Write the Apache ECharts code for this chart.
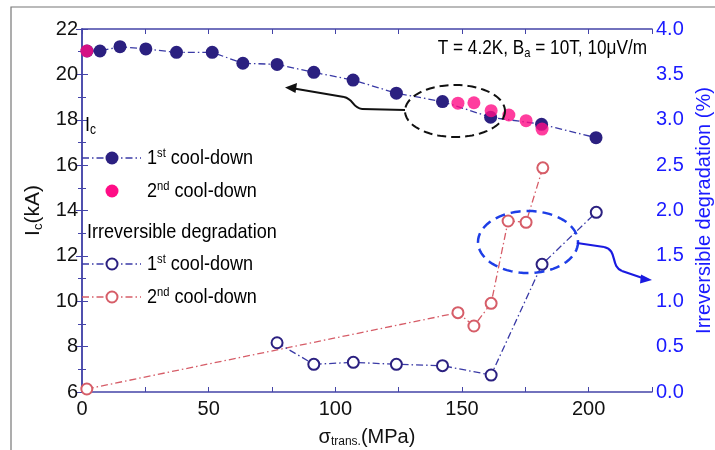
<!DOCTYPE html>
<html>
<head>
<meta charset="utf-8">
<script src="https://cdn.jsdelivr.net/npm/echarts@6/dist/echarts.min.js"></script>
<style>html,body{margin:0;padding:0;background:#fff;overflow:hidden}#c{width:715px;height:450px;position:absolute;left:0;top:0}</style>
</head>
<body>
<div id="c"></div>
<script>
// Ic (kA), 1st cool-down
var ic1Stress = [2, 7.1, 15, 25.2, 37.3, 51.4, 63.5, 77, 91.5, 107, 124.1, 142.3, 161.3, 181.4, 202.9];
var ic1Values = [21.03, 21.03, 21.22, 21.12, 20.97, 20.97, 20.49, 20.44, 20.09, 19.75, 19.17, 18.8, 18.11, 17.8, 17.21];
// Ic (kA), 2nd cool-down
var ic2Stress = [1.9, 148.4, 154.7, 161.5, 168.5, 175.3, 181.6];
var ic2Values = [21.03, 18.73, 18.75, 18.40, 18.21, 17.96, 17.59];
// Irreversible degradation (%), 1st cool-down
var deg1Stress = [77, 91.5, 107.1, 124.1, 142.3, 161.5, 181.6, 203];
var deg1Values = [0.543, 0.305, 0.327, 0.305, 0.29, 0.187, 1.407, 1.98];
// Irreversible degradation (%), 2nd cool-down
var deg2Stress = [1.9, 148.4, 154.7, 161.5, 168.2, 175.3, 181.9];
var deg2Values = [0.033, 0.874, 0.727, 0.977, 1.884, 1.87, 2.47];

var xTicks = [0, 50, 100, 150, 200];
var leftTicks = [6, 8, 10, 12, 14, 16, 18, 20, 22];
var rightTicks = [0, 0.5, 1, 1.5, 2, 2.5, 3, 3.5, 4];

function pairs(xs, ys) { return xs.map(function (x, i) { return [x, ys[i]]; }); }

var FONT = '"Liberation Sans", Arial, sans-serif';
var NAVY = '#2b2080';
var NAVYLINE = '#3a3aa6';
var PINK = '#ff0d86';
var SALMON = '#d65d68';
var AXIS = '#4444a8';
var BLUE = '#1a1aff';
var DASHDOT = [7, 3, 1.5, 3];

var chart = echarts.init(document.getElementById('c'), null, {renderer: 'canvas', width: 715, height: 450});

var G = {left: 82, right: 63, top: 29, bottom: 58};

var option = {
  backgroundColor: '#fff',
  animation: false,
  grid: {left: G.left, right: G.right, top: G.top, bottom: G.bottom, containLabel: false, outerBoundsMode: 'none'},
  xAxis: [{
    type: 'value', min: 0, max: 225, interval: 50,
    name: '{s|σ}{sub|trans.}{s|(MPa)}', nameLocation: 'middle', nameGap: 34,
    nameTextStyle: {rich: {
      s: {fontFamily: FONT, fontSize: 20, color: '#111'},
      sub: {fontFamily: FONT, fontSize: 12, color: '#111', verticalAlign: 'bottom', padding: [10, 0, 0, 0]}
    }},
    axisLine: {show: true, lineStyle: {color: AXIS, width: 1.5}},
    axisTick: {show: true, inside: true, length: 5, lineStyle: {color: AXIS}},
    minorTick: {show: true, splitNumber: 2, length: 5, lineStyle: {color: AXIS}},
    axisLabel: {fontFamily: FONT, fontSize: 20, color: '#111', margin: 7,
      customValues: xTicks},
    splitLine: {show: false}
  }, {
    type: 'value', min: 0, max: 225, interval: 25, position: 'top',
    axisLine: {show: true, lineStyle: {color: AXIS, width: 1.5}},
    axisTick: {show: true, inside: true, length: 5, lineStyle: {color: AXIS}},
    axisLabel: {show: false},
    splitLine: {show: false}
  }],
  yAxis: [{
    type: 'value', min: 6, max: 22, interval: 2, position: 'left',
    name: '{s|I}{sub|c}{s|(kA)}', nameLocation: 'middle', nameGap: 36, nameRotate: 90,
    nameTextStyle: {rich: {
      s: {fontFamily: FONT, fontSize: 21, color: '#111'},
      sub: {fontFamily: FONT, fontSize: 13, color: '#111', verticalAlign: 'bottom', padding: [10, 0, 0, 0]}
    }},
    axisLine: {show: true, lineStyle: {color: AXIS, width: 1.5}},
    axisTick: {show: true, inside: false, length: 6, lineStyle: {color: AXIS}},
    minorTick: {show: true, splitNumber: 2, length: 4, lineStyle: {color: AXIS}},
    axisLabel: {fontFamily: FONT, fontSize: 20, color: '#111', margin: 4,
      customValues: leftTicks},
    splitLine: {show: false}
  }, {
    type: 'value', min: 0, max: 4, interval: 0.5, position: 'right',
    name: 'Irreversible degradation (%)', nameLocation: 'middle', nameGap: 40, nameRotate: 90,
    nameTextStyle: {fontFamily: FONT, fontSize: 20, color: BLUE},
    axisLine: {show: true, lineStyle: {color: AXIS, width: 1.5}},
    axisTick: {show: true, inside: false, length: 6, lineStyle: {color: AXIS}},
    minorTick: {show: true, splitNumber: 2, length: 4, lineStyle: {color: AXIS}},
    axisLabel: {fontFamily: FONT, fontSize: 20, color: BLUE, margin: 4,
      formatter: function (v) { return v.toFixed(1); }, customValues: rightTicks},
    splitLine: {show: false}
  }],
  series: [{
    name: 'Ic 1st', type: 'line', xAxisIndex: 0, yAxisIndex: 0,
    data: pairs(ic1Stress, ic1Values),
    symbol: 'circle', symbolSize: 13,
    itemStyle: {color: NAVY},
    lineStyle: {color: NAVYLINE, width: 1.3, type: DASHDOT},
    z: 3
  }, {
    name: 'Ic 2nd', type: 'scatter', xAxisIndex: 0, yAxisIndex: 0,
    data: pairs(ic2Stress, ic2Values),
    symbol: 'circle', symbolSize: 13,
    itemStyle: {color: PINK},
    z: 4
  }, {
    name: 'Deg 1st', type: 'line', xAxisIndex: 0, yAxisIndex: 1,
    data: pairs(deg1Stress, deg1Values),
    symbol: 'emptyCircle', symbolSize: 11,
    itemStyle: {color: NAVY, borderWidth: 2},
    lineStyle: {color: NAVYLINE, width: 1.3, type: DASHDOT},
    z: 3
  }, {
    name: 'Deg 2nd', type: 'line', xAxisIndex: 0, yAxisIndex: 1,
    data: pairs(deg2Stress, deg2Values),
    symbol: 'emptyCircle', symbolSize: 11,
    itemStyle: {color: SALMON, borderWidth: 2},
    lineStyle: {color: SALMON, width: 1.3, type: DASHDOT},
    z: 2
  }],
  graphic: []
};

var legendRich = {
  n: {fontFamily: FONT, fontSize: 21, color: '#111'},
  sup: {fontFamily: FONT, fontSize: 13, color: '#111', verticalAlign: 'top', padding: [0, 0, 10, 0]},
  sub: {fontFamily: FONT, fontSize: 14, color: '#111', verticalAlign: 'bottom', padding: [10, 0, 0, 0]}
};
var SX = 0.86;
function txt(x, y, t) {
  return {type: 'text', x: x, y: y, scaleX: SX, z: 10,
    style: {text: t, rich: legendRich, verticalAlign: 'middle', align: 'left'}};
}
function lline(y, color) {
  return {type: 'line', z: 9, shape: {x1: 82, y1: y, x2: 141, y2: y},
    style: {stroke: color, lineWidth: 1.3, lineDash: DASHDOT}};
}
function ellipsePts(cx, cy, rx, ry) {
  var pts = [];
  for (var i = 0; i < 72; i++) {
    var a = i / 72 * Math.PI * 2;
    pts.push([cx + rx * Math.cos(a), cy + ry * Math.sin(a)]);
  }
  return pts;
}
var g = [];
// frame
g.push({type: 'polyline', z: 0, shape: {points: [[11, 450], [11, 7], [715, 7]]}, style: {stroke: '#777', lineWidth: 1.2, fill: null}});
g.push(txt(85, 125, '{n|I}{sub|c}'));
g.push(lline(158, NAVYLINE));
g.push({type: 'circle', z: 10, shape: {cx: 112, cy: 158, r: 6.5}, style: {fill: NAVY}});
g.push(txt(147, 158, '{n|1}{sup|st}{n| cool-down}'));
g.push({type: 'circle', z: 10, shape: {cx: 112, cy: 191, r: 6.5}, style: {fill: PINK}});
g.push(txt(147, 191, '{n|2}{sup|nd}{n| cool-down}'));
g.push(txt(87, 232, '{n|Irreversible degradation}'));
g.push(lline(264, NAVYLINE));
g.push({type: 'circle', z: 10, shape: {cx: 112, cy: 264, r: 5.5}, style: {fill: '#fff', stroke: NAVY, lineWidth: 2}});
g.push(txt(147, 264, '{n|1}{sup|st}{n| cool-down}'));
g.push(lline(297, SALMON));
g.push({type: 'circle', z: 10, shape: {cx: 112, cy: 297, r: 5.5}, style: {fill: '#fff', stroke: SALMON, lineWidth: 2}});
g.push(txt(147, 297, '{n|2}{sup|nd}{n| cool-down}'));
// condition text
g.push({type: 'text', x: 647, y: 48, scaleX: SX, z: 10, style: {
  text: '{n|T = 4.2K, B}{sub|a}{n| = 10T, 10μV/m}', align: 'right', verticalAlign: 'middle',
  rich: {
    n: {fontFamily: FONT, fontSize: 20, color: '#111'},
    sub: {fontFamily: FONT, fontSize: 13, color: '#111', verticalAlign: 'bottom', padding: [10, 0, 0, 0]}
  }}});
// black dashed ellipse + arrow
g.push({type: 'polygon', z: 8, shape: {points: ellipsePts(455, 111, 50, 26)},
  style: {fill: null, stroke: '#111', lineWidth: 2, lineDash: [9, 5]}});
g.push({type: 'polyline', z: 8, shape: {points: [[405, 110], [362, 109]]}, style: {fill: null, stroke: '#111', lineWidth: 2}});
g.push({type: 'bezierCurve', z: 8, shape: {x1: 362, y1: 109, cpx1: 352, cpy1: 108, cpx2: 354, cpy2: 99, x2: 344, y2: 97},
  style: {fill: null, stroke: '#111', lineWidth: 2}});
g.push({type: 'polyline', z: 8, shape: {points: [[344, 97], [294, 88.5]]}, style: {fill: null, stroke: '#111', lineWidth: 2}});
g.push({type: 'polygon', z: 8, shape: {points: [[285, 87.5], [297, 83], [295.5, 93]]}, style: {fill: '#111'}});
// blue dashed ellipse + arrow
g.push({type: 'polygon', z: 8, shape: {points: ellipsePts(528, 242, 50, 31)},
  style: {fill: null, stroke: '#1d3de6', lineWidth: 2.5, lineDash: [10, 6]}});
g.push({type: 'polyline', z: 8, shape: {points: [[577, 243], [604, 247]]}, style: {fill: null, stroke: '#1a1ae0', lineWidth: 2.2}});
g.push({type: 'bezierCurve', z: 8, shape: {x1: 604, y1: 247, cpx1: 618, cpy1: 250, cpx2: 610, cpy2: 266, x2: 622, y2: 271},
  style: {fill: null, stroke: '#1a1ae0', lineWidth: 2.2}});
g.push({type: 'polyline', z: 8, shape: {points: [[622, 271], [644, 278.5]]}, style: {fill: null, stroke: '#1a1ae0', lineWidth: 2.2}});
g.push({type: 'polygon', z: 8, shape: {points: [[652, 280], [641, 274.5], [640, 283.5]]}, style: {fill: '#1a1ae0'}});

option.graphic = g;
chart.setOption(option);
</script>
</body>
</html>
